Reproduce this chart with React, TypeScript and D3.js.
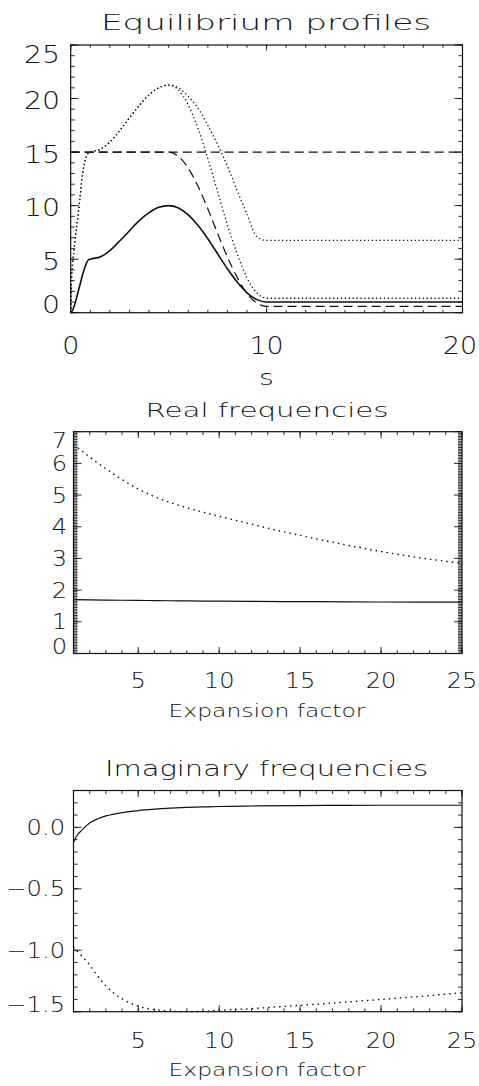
import React from "react";
import * as d3 from "d3";

// ---- Equilibrium profiles along s ----
const profileS = [0, 0.05, 0.1, 0.2, 0.3, 0.4, 0.5, 0.6, 0.7, 0.8, 0.9, 1, 1.5, 2, 2.5, 3, 3.5, 4, 4.5, 5, 5.5, 6, 6.5, 7, 7.5, 8, 8.5, 9, 9.5, 10, 20];
const profileSolid = [0, 0.08, 0.25, 0.75, 1.4, 2.1, 2.8, 3.5, 4.1, 4.6, 4.92, 5.0, 5.2, 5.8, 6.7, 7.65, 8.6, 9.35, 9.85, 10, 9.78, 9.14, 8.14, 6.9, 5.5, 4.1, 2.86, 1.86, 1.22, 1.0, 1.0];
const profileDottedLow = [0, 3.4, 4.6, 6.4, 8.0, 9.5, 11.2, 12.9, 13.9, 14.6, 14.9, 15.0, 15.25, 15.95, 17.0, 18.2, 19.35, 20.35, 21.0, 21.25, 20.8, 19.4, 17.2, 14.4, 11.3, 8.2, 5.5, 3.25, 1.85, 1.35, 1.35];
const profileDottedHigh = [0, 3.4, 4.6, 6.4, 8.0, 9.5, 11.2, 12.9, 13.9, 14.6, 14.9, 15.0, 15.25, 15.95, 17.0, 18.2, 19.35, 20.35, 21.0, 21.25, 21.0, 20.2, 19.1, 17.5, 15.7, 13.7, 11.4, 9.2, 7.1, 6.75, 6.75];
const profileDashedFall = [15, 15, 15, 15, 15, 15, 15, 15, 15, 15, 15, 15, 15, 15, 15, 15, 15, 15, 15, 15, 14.6, 13.5, 11.8, 9.7, 7.4, 5.2, 3.3, 1.8, 0.9, 0.6, 0.6];
const profileFlatS = [0, 20];
const profileDashedFlat = [15, 15];

// ---- Frequencies against expansion factor ----
const realX = [1, 2, 3, 4, 5, 6, 7, 8, 9, 10, 12, 14, 16, 18, 20, 22, 24, 25];
const realSolid = [1.7, 1.69, 1.685, 1.68, 1.675, 1.67, 1.665, 1.66, 1.655, 1.65, 1.645, 1.64, 1.635, 1.63, 1.625, 1.622, 1.62, 1.62];
const realDotted = [6.6, 6.2, 5.83, 5.49, 5.19, 4.95, 4.76, 4.6, 4.46, 4.33, 4.08, 3.84, 3.62, 3.41, 3.22, 3.05, 2.91, 2.85];

const imagX = [1, 1.25, 1.5, 2, 2.5, 3, 3.5, 4, 5, 6, 7, 8, 9, 10, 12, 15, 18, 20, 22, 25];
const imagSolid = [-0.12, -0.06, -0.025, 0.035, 0.07, 0.093, 0.108, 0.12, 0.137, 0.148, 0.156, 0.162, 0.166, 0.17, 0.174, 0.177, 0.179, 0.18, 0.18, 0.18];
const imagDotted = [-0.97, -1.01, -1.045, -1.12, -1.21, -1.29, -1.35, -1.395, -1.455, -1.483, -1.495, -1.5, -1.497, -1.49, -1.475, -1.448, -1.42, -1.4, -1.38, -1.345];

// ---- Tick labels ----
const profileXTicks = [0, 10, 20];
const profileYTicks = [0, 5, 10, 15, 20, 25];
const freqXTicks = [5, 10, 15, 20, 25];
const realYTicks = [0, 1, 2, 3, 4, 5, 6, 7];
const imagYTicks = [0.0, -0.5, -1.0, -1.5];
const imagYLabels = ["0.0", "\u22120.5", "\u22121.0", "\u22121.5"];

const FONT = "'DejaVu Sans', 'Liberation Sans', sans-serif";
const INK = "#111";
const WIDTH = 479;

type TxtProps = {
  x: number;
  y: number;
  size: number;
  sx?: number;
  anchor?: "start" | "middle" | "end";
  len?: number;
  children: React.ReactNode;
};

function Txt({ x, y, size, sx = 1, anchor = "middle", len, children }: TxtProps) {
  return (
    <text
      transform={`translate(${x},${y}) scale(${sx},1)`}
      textAnchor={anchor}
      fontSize={size}
      fontFamily={FONT}
      fontWeight={200}
      fill={INK}
      {...(len ? { textLength: len / sx, lengthAdjust: "spacingAndGlyphs" } : {})}
    >
      {children}
    </text>
  );
}

type FrameProps = {
  x: d3.ScaleLinear<number, number>;
  y: d3.ScaleLinear<number, number>;
  xMajor: number[];
  xMinor: number[];
  yMajor: number[];
  yMinor: number[];
  xMajLen: number;
  xMinLen: number;
  yMajLen: number;
  yMinLen: number;
};

// Closed box with inward ticks on all four sides
function Frame({ x, y, xMajor, xMinor, yMajor, yMinor, xMajLen, xMinLen, yMajLen, yMinLen }: FrameProps) {
  const [l, r] = x.range();
  const [b, t] = y.range();
  const ticks: JSX.Element[] = [];
  const addX = (v: number, len: number, k: string) => {
    const px = x(v);
    ticks.push(<line key={`xb${k}`} x1={px} x2={px} y1={b} y2={b - len} />);
    ticks.push(<line key={`xt${k}`} x1={px} x2={px} y1={t} y2={t + len} />);
  };
  const addY = (v: number, len: number, k: string) => {
    const py = y(v);
    ticks.push(<line key={`yl${k}`} x1={l} x2={l + len} y1={py} y2={py} />);
    ticks.push(<line key={`yr${k}`} x1={r} x2={r - len} y1={py} y2={py} />);
  };
  xMinor.forEach((v, i) => addX(v, xMinLen, `m${i}`));
  xMajor.forEach((v, i) => addX(v, xMajLen, `M${i}`));
  yMinor.forEach((v, i) => addY(v, yMinLen, `m${i}`));
  yMajor.forEach((v, i) => addY(v, yMajLen, `M${i}`));
  return (
    <g stroke={INK} strokeWidth={0.9} fill="none">
      {ticks}
      <rect x={l} y={t} width={r - l} height={b - t} strokeWidth={1.2} />
    </g>
  );
}

function linePath(xs: number[], ys: number[], x: d3.ScaleLinear<number, number>, y: d3.ScaleLinear<number, number>) {
  const gen = d3
    .line<number>()
    .x((_, i) => x(xs[i]))
    .y((d) => y(d))
    .curve(d3.curveMonotoneX);
  return gen(ys) || "";
}

// Keep end labels inside the frame vertically
const clampLabel = (v: number, top: number, bottom: number, cap: number) =>
  Math.max(top + cap / 2 + 1, Math.min(bottom - cap / 2, v));

// Keep x labels inside the page horizontally
const clampX = (v: number, half: number) => Math.min(v, WIDTH - half - 3);

export default function App() {
  // Panel 1: equilibrium profiles
  const x1 = d3.scaleLinear().domain([0, 20]).range([70.7, 462.5]);
  const y1 = d3.scaleLinear().domain([0, 25]).range([312.7, 45]);
  // Panel 2: real frequencies
  const x2 = d3.scaleLinear().domain([1, 25]).range([73.5, 462]);
  const y2 = d3.scaleLinear().domain([0, 7]).range([653.5, 431.7]);
  // Panel 3: imaginary frequencies
  const x3 = d3.scaleLinear().domain([1, 25]).range([73.5, 462]);
  const y3 = d3.scaleLinear().domain([-1.5, 0.3]).range([1011.7, 790.5]);

  const p1Size = 24;
  const p1Cap = p1Size * 0.729;
  const pSize = 21;
  const pCap = pSize * 0.729;

  return (
    <svg
      width={WIDTH}
      height={1086}
      viewBox="0 0 479 1086"
      style={{ position: "absolute", left: 0, top: 0, background: "#fff" }}
    >
      <rect x={0} y={0} width={WIDTH} height={1086} fill="#fff" />

      {/* ---------- Equilibrium profiles ---------- */}
      <Txt x={266} y={29.5} size={22} len={330}>Equilibrium profiles</Txt>
      <Frame
        x={x1}
        y={y1}
        xMajor={profileXTicks}
        xMinor={d3.range(0, 20.001, 1)}
        yMajor={profileYTicks}
        yMinor={d3.range(0, 25.001, 1)}
        xMajLen={5.5}
        xMinLen={2.8}
        yMajLen={8}
        yMinLen={4}
      />
      <g fill="none" stroke={INK}>
        <path d={linePath(profileFlatS, profileDashedFlat, x1, y1)} strokeWidth={1.2} strokeDasharray="9,5" />
        <path d={linePath(profileS, profileDashedFall, x1, y1)} strokeWidth={1.2} strokeDasharray="9,5" />
        <path d={linePath(profileS, profileDottedHigh, x1, y1)} strokeWidth={1.3} strokeDasharray="1.3,2.6" />
        <path d={linePath(profileS, profileDottedLow, x1, y1)} strokeWidth={1.3} strokeDasharray="1.3,2.6" />
        <path d={linePath(profileS, profileSolid, x1, y1)} strokeWidth={1.6} />
      </g>
      {profileYTicks.map((v) => (
        <Txt key={`p1y${v}`} x={60} y={clampLabel(y1(v) + 2, 45, 312.7, p1Cap) + p1Cap / 2} size={p1Size} sx={1.18} anchor="end">
          {String(v)}
        </Txt>
      ))}
      {profileXTicks.map((v) => (
        <Txt key={`p1x${v}`} x={clampX(x1(v), 16)} y={353.5} size={24} sx={1.12}>
          {String(v)}
        </Txt>
      ))}
      <Txt x={266.5} y={385} size={22} sx={1.3}>s</Txt>

      {/* ---------- Real frequencies ---------- */}
      <Txt x={267} y={417.3} size={20} len={243}>Real frequencies</Txt>
      <Frame
        x={x2}
        y={y2}
        xMajor={freqXTicks}
        xMinor={d3.range(1, 25.001, 1)}
        yMajor={realYTicks}
        yMinor={d3.range(0, 7.001, 0.05)}
        xMajLen={6.5}
        xMinLen={3.3}
        yMajLen={8}
        yMinLen={4}
      />
      <g fill="none" stroke={INK}>
        <path d={linePath(realX, realDotted, x2, y2)} strokeWidth={1.4} strokeDasharray="1.5,4" />
        <path d={linePath(realX, realSolid, x2, y2)} strokeWidth={1.2} />
      </g>
      {realYTicks.map((v) => (
        <Txt key={`p2y${v}`} x={67} y={clampLabel(y2(v), 431.7, 653.5, pCap) + pCap / 2} size={pSize} sx={1.15} anchor="end">
          {String(v)}
        </Txt>
      ))}
      {freqXTicks.map((v) => (
        <Txt key={`p2x${v}`} x={clampX(x2(v), 14)} y={688} size={pSize} sx={1.15}>
          {String(v)}
        </Txt>
      ))}
      <Txt x={267} y={716.5} size={17.5} len={197}>Expansion factor</Txt>

      {/* ---------- Imaginary frequencies ---------- */}
      <Txt x={266.5} y={776} size={21} len={323}>Imaginary frequencies</Txt>
      <Frame
        x={x3}
        y={y3}
        xMajor={freqXTicks}
        xMinor={d3.range(1, 25.001, 1)}
        yMajor={imagYTicks}
        yMinor={d3.range(-1.5, 0.3001, 0.1)}
        xMajLen={6.5}
        xMinLen={3.3}
        yMajLen={8}
        yMinLen={4}
      />
      <g fill="none" stroke={INK}>
        <path d={linePath(imagX, imagDotted, x3, y3)} strokeWidth={1.4} strokeDasharray="1.5,4" />
        <path d={linePath(imagX, imagSolid, x3, y3)} strokeWidth={1.2} />
      </g>
      {imagYTicks.map((v, i) => (
        <Txt key={`p3y${i}`} x={65} y={clampLabel(y3(v), 790.5, 1011.7, pCap) + pCap / 2} size={pSize} sx={1.15} anchor="end">
          {imagYLabels[i]}
        </Txt>
      ))}
      {freqXTicks.map((v) => (
        <Txt key={`p3x${v}`} x={clampX(x3(v), 14)} y={1047.5} size={pSize} sx={1.15}>
          {String(v)}
        </Txt>
      ))}
      <Txt x={267} y={1075.5} size={17.5} len={197}>Expansion factor</Txt>
    </svg>
  );
}
